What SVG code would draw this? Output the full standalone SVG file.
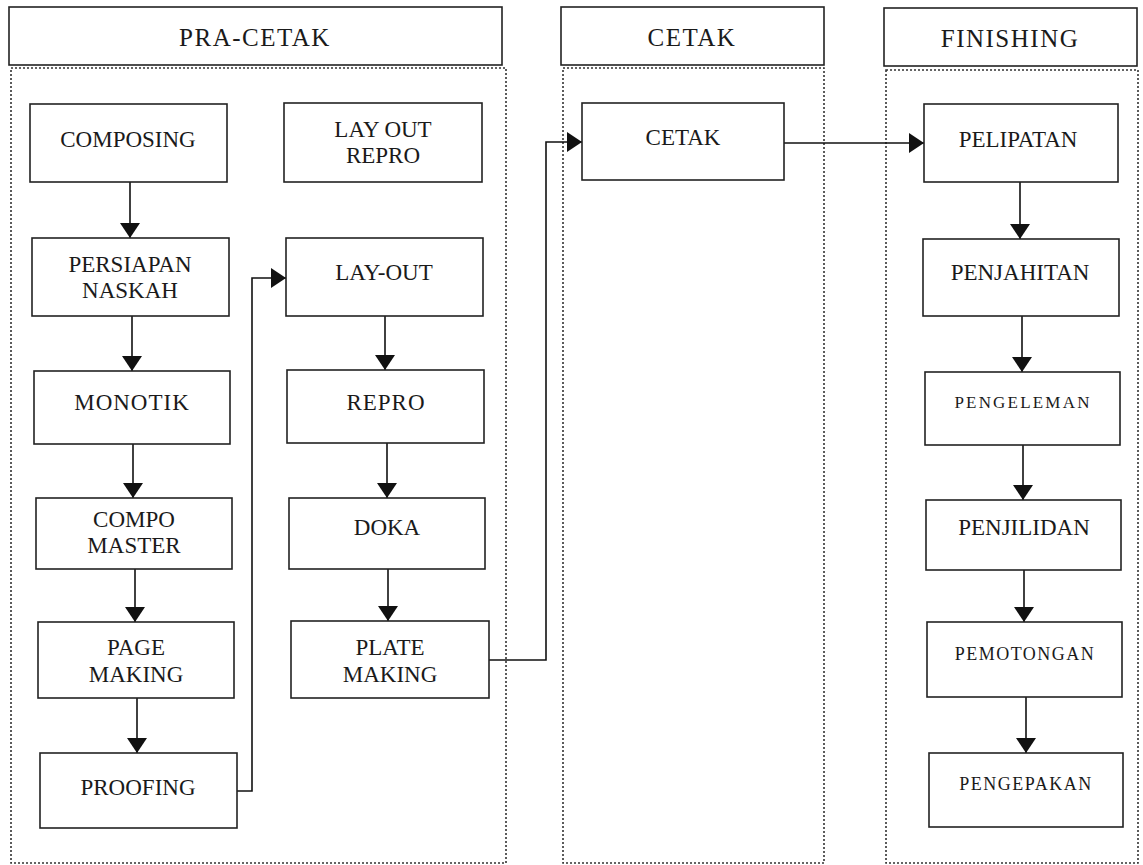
<svg xmlns="http://www.w3.org/2000/svg" width="1143" height="865" viewBox="0 0 1143 865">
<defs>
<style>
.hdr{fill:#fff;stroke:#222;stroke-width:1.6}
.lane{fill:none;stroke:#333;stroke-width:1.6;stroke-dasharray:2 2}
.box{fill:#fff;stroke:#222;stroke-width:1.6}
.t{font-family:"Liberation Serif","Times New Roman",serif;font-size:23px;fill:#1a1a1a;text-anchor:middle}
.th{font-family:"Liberation Serif","Times New Roman",serif;font-size:25px;fill:#1a1a1a;text-anchor:middle;letter-spacing:1.5px}
.ts{font-family:"Liberation Serif","Times New Roman",serif;font-size:17px;fill:#1a1a1a;text-anchor:middle;letter-spacing:2.2px}
.c{fill:none;stroke:#111;stroke-width:1.6}
</style>
<marker id="arr" viewBox="0 0 15 20" markerUnits="userSpaceOnUse" markerWidth="15" markerHeight="20" refX="15" refY="10" orient="auto">
<path d="M0,0 L15,10 L0,20 z" fill="#111"/>
</marker>
</defs>
<rect width="1143" height="865" fill="#fff"/>

<g id="lanes">
<g id="lane-pracetak">
<rect class="hdr" x="9" y="7" width="493" height="58"/>
<text class="th" x="255" y="46">PRA-CETAK</text>
<rect class="lane" x="11" y="68" width="495" height="795"/>
</g>
<g id="lane-cetak">
<rect class="hdr" x="561" y="7" width="263" height="58"/>
<text class="th" x="692" y="46">CETAK</text>
<rect class="lane" x="563" y="68" width="261" height="795"/>
</g>
<g id="lane-finishing">
<rect class="hdr" x="884" y="8" width="253" height="58"/>
<text class="th" x="1010" y="47">FINISHING</text>
<rect class="lane" x="886" y="70" width="252" height="793"/>
</g>
</g>

<g id="connectors">
<line class="c" x1="130" y1="182" x2="130" y2="238" marker-end="url(#arr)"/>
<line class="c" x1="132" y1="316" x2="132" y2="371" marker-end="url(#arr)"/>
<line class="c" x1="133" y1="444" x2="133" y2="498" marker-end="url(#arr)"/>
<line class="c" x1="135" y1="569" x2="135" y2="622" marker-end="url(#arr)"/>
<line class="c" x1="137" y1="698" x2="137" y2="753" marker-end="url(#arr)"/>
<path class="c" d="M237,791 H252 V278 H286" marker-end="url(#arr)"/>
<line class="c" x1="385" y1="316" x2="385" y2="370" marker-end="url(#arr)"/>
<line class="c" x1="387" y1="443" x2="387" y2="498" marker-end="url(#arr)"/>
<line class="c" x1="388" y1="569" x2="388" y2="621" marker-end="url(#arr)"/>
<path class="c" d="M489,660 H546 V142 H582" marker-end="url(#arr)"/>
<line class="c" x1="784" y1="143" x2="924" y2="143" marker-end="url(#arr)"/>
<line class="c" x1="1020" y1="182" x2="1020" y2="239" marker-end="url(#arr)"/>
<line class="c" x1="1022" y1="316" x2="1022" y2="372" marker-end="url(#arr)"/>
<line class="c" x1="1023" y1="445" x2="1023" y2="500" marker-end="url(#arr)"/>
<line class="c" x1="1024" y1="570" x2="1024" y2="622" marker-end="url(#arr)"/>
<line class="c" x1="1026" y1="697" x2="1026" y2="753" marker-end="url(#arr)"/>
</g>

<g id="composing"><rect class="box" x="30" y="104" width="197" height="78"/><text class="t" x="128" y="147">COMPOSING</text></g>
<g id="persiapan-naskah"><rect class="box" x="32" y="238" width="197" height="78"/><text class="t" x="130" y="272">PERSIAPAN</text><text class="t" x="130" y="298">NASKAH</text></g>
<g id="monotik"><rect class="box" x="34" y="371" width="196" height="73"/><text class="t" x="132" y="410" style="letter-spacing:1px">MONOTIK</text></g>
<g id="compo-master"><rect class="box" x="36" y="498" width="196" height="71"/><text class="t" x="134" y="527">COMPO</text><text class="t" x="134" y="553">MASTER</text></g>
<g id="page-making"><rect class="box" x="38" y="622" width="196" height="76"/><text class="t" x="136" y="655">PAGE</text><text class="t" x="136" y="682">MAKING</text></g>
<g id="proofing"><rect class="box" x="40" y="753" width="197" height="75"/><text class="t" x="138" y="795">PROOFING</text></g>

<g id="lay-out-repro"><rect class="box" x="284" y="103" width="198" height="79"/><text class="t" x="383" y="137">LAY OUT</text><text class="t" x="383" y="163">REPRO</text></g>
<g id="lay-out"><rect class="box" x="286" y="238" width="197" height="78"/><text class="t" x="384" y="280">LAY-OUT</text></g>
<g id="repro"><rect class="box" x="287" y="370" width="197" height="73"/><text class="t" x="386" y="410" style="letter-spacing:1px">REPRO</text></g>
<g id="doka"><rect class="box" x="289" y="498" width="196" height="71"/><text class="t" x="387" y="535">DOKA</text></g>
<g id="plate-making"><rect class="box" x="291" y="621" width="198" height="77"/><text class="t" x="390" y="655">PLATE</text><text class="t" x="390" y="682">MAKING</text></g>

<g id="cetak"><rect class="box" x="582" y="103" width="202" height="77"/><text class="t" x="683" y="145">CETAK</text></g>

<g id="pelipatan"><rect class="box" x="924" y="104" width="194" height="78"/><text class="t" x="1018" y="147">PELIPATAN</text></g>
<g id="penjahitan"><rect class="box" x="923" y="239" width="196" height="77"/><text class="t" x="1020" y="280">PENJAHITAN</text></g>
<g id="pengeleman"><rect class="box" x="925" y="372" width="195" height="73"/><text class="ts" x="1023" y="408">PENGELEMAN</text></g>
<g id="penjilidan"><rect class="box" x="926" y="500" width="195" height="70"/><text class="t" x="1024" y="535">PENJILIDAN</text></g>
<g id="pemotongan"><rect class="box" x="927" y="622" width="195" height="75"/><text class="ts" x="1025" y="660" style="font-size:18px;letter-spacing:1.5px">PEMOTONGAN</text></g>
<g id="pengepakan"><rect class="box" x="929" y="753" width="194" height="74"/><text class="ts" x="1026" y="790" style="font-size:18px;letter-spacing:1.5px">PENGEPAKAN</text></g>
</svg>
